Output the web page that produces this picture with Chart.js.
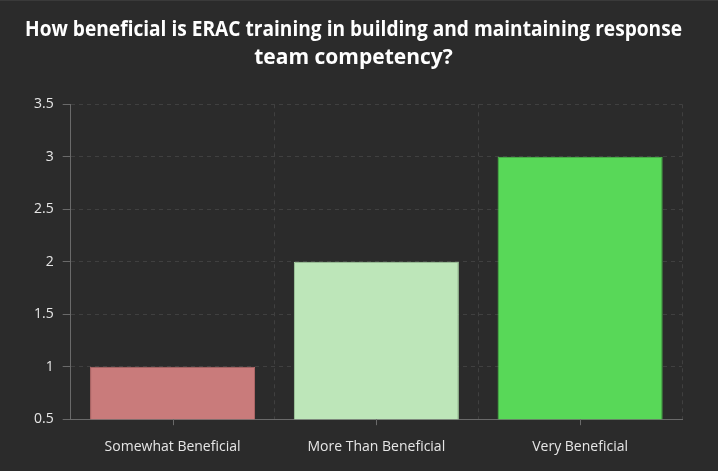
<!DOCTYPE html>
<html>
<head>
<meta charset="utf-8">
<script src="https://cdn.jsdelivr.net/npm/chart.js@4"></script>
<style>
  html, body { margin: 0; padding: 0; background: #2b2b2b; }
  #wrap { width: 718px; height: 471px; border-top: 1px solid #3a3a3a; box-sizing: border-box; }
</style>
</head>
<body>
<div id="wrap"><canvas id="myChart" width="718" height="470"></canvas></div>
<script>
const categories = ["Somewhat Beneficial", "More Than Beneficial", "Very Beneficial"];
const values = [1, 2, 3];
const barColors = ["#c97b7b", "#bde6b9", "#58d858"];
const barBorders = ["#b56a6a", "#a9d4a5", "#4cc24c"];
const yTicks = [0.5, 1, 1.5, 2, 2.5, 3, 3.5];

// tick marks under the category centres
const centerTicks = {
  id: "centerTicks",
  afterDraw(chart) {
    const ctx = chart.ctx;
    const x = chart.scales.x;
    ctx.save();
    ctx.strokeStyle = "#6a6a6a";
    ctx.lineWidth = 1;
    categories.forEach(function(c, i) {
      const px = Math.round(x.getPixelForValue(i)) + 0.5;
      ctx.beginPath();
      ctx.moveTo(px, x.top);
      ctx.lineTo(px, x.top + 6);
      ctx.stroke();
    });
    ctx.restore();
  }
};

new Chart("myChart", {
  type: "bar",
  data: {
    labels: categories,
    datasets: [{
      data: values,
      backgroundColor: barColors,
      borderColor: barBorders,
      borderWidth: 1,
      barPercentage: 0.9,
      categoryPercentage: 0.9
    }]
  },
  options: {
    responsive: false,
    animation: false,
    layout: { padding: { left: 25, right: 36, top: 0, bottom: -3 } },
    plugins: {
      legend: { display: false },
      tooltip: { enabled: false },
      title: {
        display: true,
        text: ["How beneficial is ERAC training in building and maintaining response", "team competency?"],
        color: "#ffffff",
        font: { family: "Open Sans", size: 21, weight: "bold", lineHeight: 1.34 },
        padding: { top: 15, bottom: 32 }
      }
    },
    scales: {
      x: {
        grid: {
          offset: true,
          color: "#404040",
          drawTicks: false
        },
        border: { display: true, color: "#6a6a6a", dash: [4, 4] },
        ticks: {
          color: "#e6e6e6",
          padding: 19,
          font: { family: "Open Sans", size: 14 }
        }
      },
      y: {
        min: 0.5,
        max: 3.5,
        afterBuildTicks: function(axis) {
          axis.ticks = yTicks.map(function(v) { return { value: v }; });
        },
        grid: {
          color: "#404040",
          tickColor: "#6a6a6a",
          tickLength: 8,
          tickBorderDash: [],
          drawTicks: true
        },
        border: { display: true, color: "#6a6a6a", dash: [4, 4] },
        ticks: {
          color: "#e6e6e6",
          padding: 9,
          font: { family: "Open Sans", size: 14 },
          callback: function(v) { return String(v); }
        }
      }
    }
  },
  plugins: [centerTicks]
});
</script>
</body>
</html>
